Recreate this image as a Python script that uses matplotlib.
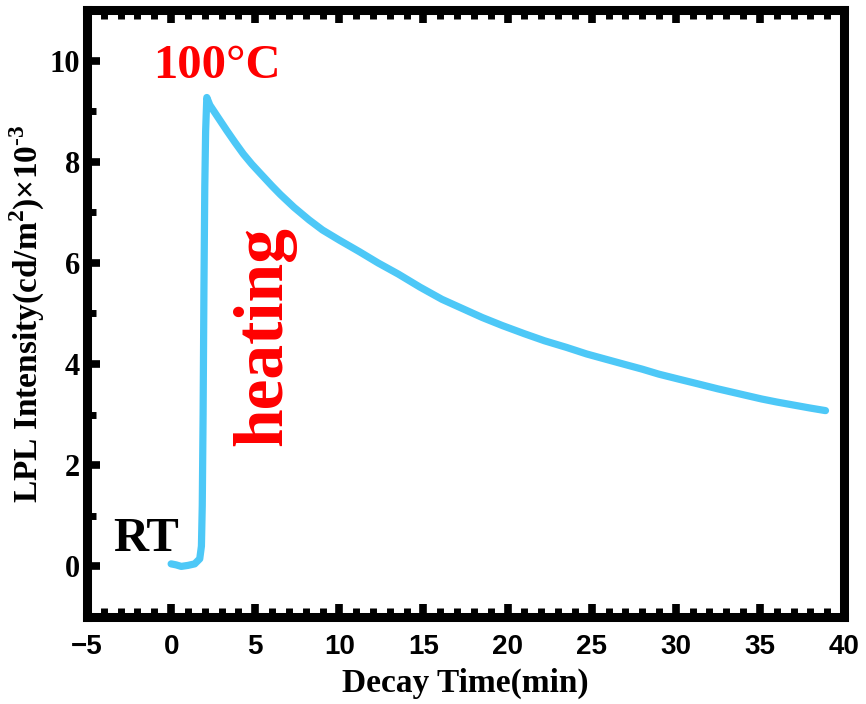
import matplotlib
matplotlib.use("Agg")
import matplotlib.pyplot as plt
from matplotlib.ticker import MultipleLocator

# Data
time_min = [0, 0.3, 0.6, 1.0, 1.4, 1.7, 1.8, 1.85, 1.9, 1.95, 2.0, 2.05, 2.12,
            2.3, 2.8, 3.3, 3.8, 4.3, 4.8, 5.3, 6.0, 6.5, 7.3, 8.2, 9.0, 10.0,
            11.2, 12.3, 13.5, 14.8, 16.1, 17.3, 18.5, 19.7, 21.0, 22.2, 23.5,
            24.7, 25.9, 27.0, 28.0, 29.0, 30.2, 31.3, 32.5, 33.8, 35.1, 36.0,
            37.0, 38.0, 38.9]
intensity = [0.05, 0.03, 0.0, 0.02, 0.05, 0.15, 0.4, 1.2, 3.0, 5.5, 7.5, 8.6, 9.27,
             9.12, 8.87, 8.62, 8.38, 8.15, 7.95, 7.77, 7.52, 7.35, 7.10, 6.85, 6.65,
             6.45, 6.22, 6.00, 5.78, 5.52, 5.28, 5.10, 4.92, 4.76, 4.60, 4.46, 4.33,
             4.20, 4.09, 3.99, 3.90, 3.80, 3.70, 3.61, 3.51, 3.41, 3.31, 3.25,
             3.19, 3.13, 3.08]
x_ticks = [-5, 0, 5, 10, 15, 20, 25, 30, 35, 40]
y_ticks = [0, 2, 4, 6, 8, 10]

serif = ["Liberation Serif", "DejaVu Serif"]
sans = ["Liberation Sans", "DejaVu Sans"]

plt.rcParams["mathtext.fontset"] = "custom"
plt.rcParams["mathtext.rm"] = "Liberation Serif"
plt.rcParams["mathtext.bf"] = "Liberation Serif:bold"

fig = plt.figure(figsize=(8.66, 7.04), dpi=100)
ax = fig.add_axes([0.1005, 0.1236, 0.8741, 0.8622])

ax.plot(time_min, intensity, color="#4DC8F7", lw=5.2, solid_capstyle="round",
        solid_joinstyle="round")

ax.set_xlim(-5, 40)
ax.set_ylim(-1, 11)
ax.set_xticks(x_ticks)
ax.set_yticks(y_ticks)
ax.xaxis.set_minor_locator(MultipleLocator(1))
ax.yaxis.set_minor_locator(MultipleLocator(1))

for s in ax.spines.values():
    s.set_linewidth(6.5)

ax.tick_params(axis="x", which="both", direction="in", top=True, bottom=True)
ax.tick_params(axis="y", which="both", direction="in", left=True, right=False)
ax.tick_params(which="major", length=9.5, width=5.5)
ax.tick_params(which="minor", length=6.5, width=5)
ax.tick_params(axis="x", which="major", pad=12)
ax.tick_params(axis="y", which="major", pad=5)

for lab in ax.get_xticklabels():
    lab.set_fontfamily(sans)
    lab.set_fontweight("bold")
    lab.set_fontsize(20)
for lab in ax.get_yticklabels():
    lab.set_fontfamily(serif)
    lab.set_fontweight("bold")
    lab.set_fontsize(22)

ax.set_xlabel("Decay Time(min)", fontfamily=serif, fontweight="bold",
              fontsize=24, labelpad=6)
ax.set_ylabel(r"LPL Intensity(cd/m$^\mathbf{2}$)×10$^\mathbf{\text{-}3}$", fontfamily=serif,
              fontweight="bold", fontsize=24, labelpad=2)

ax.text(2.7, 9.65, "100°C", color="#FF0000", fontfamily=serif, fontweight="bold",
        fontsize=35, ha="center", va="baseline")
ax.text(-1.47, 0.30, "RT", color="black", fontfamily=serif, fontweight="bold",
        fontsize=35, ha="center", va="baseline")
ax.text(5.55, 4.55, "heating", color="#FF0000", fontfamily=serif, fontweight="bold",
        fontsize=50, ha="center", va="center", rotation=90)

fig.savefig("out.png", dpi=100)
